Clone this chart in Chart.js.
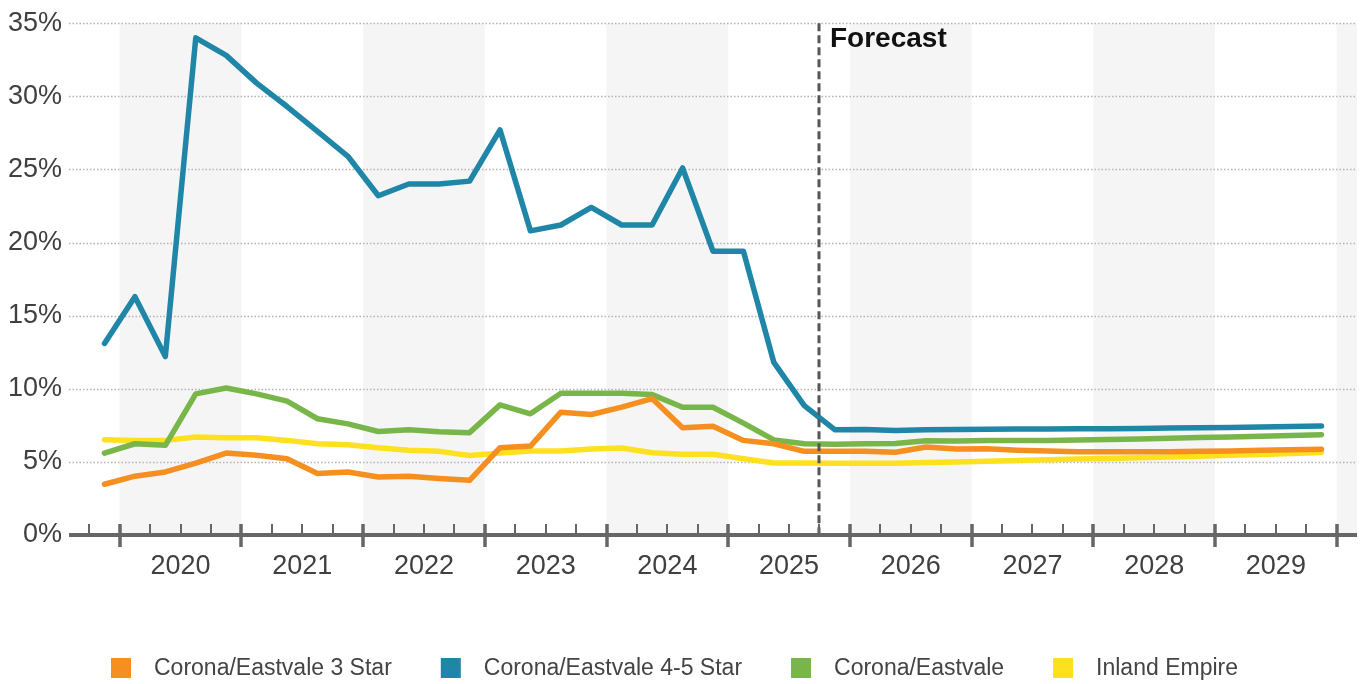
<!DOCTYPE html>
<html>
<head>
<meta charset="utf-8">
<script src="https://cdn.jsdelivr.net/npm/chart.js@4/dist/chart.umd.min.js"></script>
<style>
  html, body { margin: 0; padding: 0; background: #fff; }
  #wrap { width: 1364px; height: 684px; }
</style>
</head>
<body>
<div id="wrap"><canvas id="c" width="1364" height="684"></canvas></div>
<script>
// Quarterly vacancy rates (%), history through 2025 Q3, forecast afterwards
const quarters = [
  '2019 Q4',
  '2020 Q1','2020 Q2','2020 Q3','2020 Q4',
  '2021 Q1','2021 Q2','2021 Q3','2021 Q4',
  '2022 Q1','2022 Q2','2022 Q3','2022 Q4',
  '2023 Q1','2023 Q2','2023 Q3','2023 Q4',
  '2024 Q1','2024 Q2','2024 Q3','2024 Q4',
  '2025 Q1','2025 Q2','2025 Q3','2025 Q4',
  '2026 Q1','2026 Q2','2026 Q3','2026 Q4',
  '2027 Q1','2027 Q2','2027 Q3','2027 Q4',
  '2028 Q1','2028 Q2','2028 Q3','2028 Q4',
  '2029 Q1','2029 Q2','2029 Q3','2029 Q4'
];

const corona3Star = [
  3.47, 4.02, 4.31, 4.92, 5.6, 5.45, 5.22, 4.2, 4.31, 3.97, 4.02, 3.86, 3.74,
  5.97, 6.08, 8.4, 8.24, 8.74, 9.33, 7.33, 7.44, 6.47, 6.24, 5.72, 5.72,
  5.72, 5.66, 6.02, 5.88, 5.9, 5.8, 5.74, 5.7, 5.69, 5.69, 5.7, 5.72,
  5.75, 5.79, 5.83, 5.87
];
const corona45Star = [
  13.1, 16.3, 12.2, 34.0, 32.8, 30.9, 29.3, 27.6, 25.9, 23.2, 24.0, 24.0, 24.2,
  27.7, 20.8, 21.2, 22.4, 21.2, 21.2, 25.1, 19.4, 19.4, 11.8, 8.85, 7.2,
  7.22, 7.15, 7.2, 7.22, 7.24, 7.25, 7.25, 7.26, 7.27, 7.29, 7.31, 7.34,
  7.36, 7.39, 7.42, 7.45
];
const coronaEastvale = [
  5.6, 6.24, 6.13, 9.65, 10.05, 9.65, 9.15, 7.95, 7.6, 7.08, 7.2, 7.06, 7.0,
  8.9, 8.29, 9.69, 9.7, 9.7, 9.6, 8.74, 8.74, 7.65, 6.5, 6.24, 6.2,
  6.24, 6.25, 6.45, 6.42, 6.46, 6.47, 6.47, 6.5, 6.53, 6.57, 6.61, 6.66,
  6.71, 6.76, 6.81, 6.86
];
const inlandEmpire = [
  6.52, 6.47, 6.47, 6.7, 6.65, 6.65, 6.47, 6.24, 6.17, 5.97, 5.79, 5.72, 5.43,
  5.6, 5.74, 5.74, 5.88, 5.95, 5.63, 5.52, 5.52, 5.22, 4.92, 4.92, 4.9,
  4.9, 4.9, 4.95, 5.0, 5.04, 5.1, 5.15, 5.2, 5.24, 5.28, 5.33, 5.39,
  5.45, 5.51, 5.58, 5.65
];

const seriesNames = ['Corona/Eastvale 3 Star', 'Corona/Eastvale 4-5 Star', 'Corona/Eastvale', 'Inland Empire'];
const seriesColors = ['#f58f1f', '#1f86a7', '#79b64a', '#fde11f'];
const yTicks = [0, 5, 10, 15, 20, 25, 30, 35];
const yearLabels = ['2020','2021','2022','2023','2024','2025','2026','2027','2028','2029'];
const forecastStart = '2025 Q4';

// quarter label -> decimal year at the middle / start of the quarter
function quarterMid(label) {
  const [y, q] = label.split(' Q');
  return Number(y) + (Number(q) - 0.5) / 4;
}
function quarterStart(label) {
  const [y, q] = label.split(' Q');
  return Number(y) + (Number(q) - 1) / 4;
}

const X_MIN = 2019 + 7 / 12;
const X_MAX = 2030 + 2 / 12;
const FONT = "'Liberation Sans', Arial, sans-serif";

const seriesValues = [corona3Star, corona45Star, coronaEastvale, inlandEmpire];
const datasets = seriesValues.map((vals, i) => ({
  label: seriesNames[i],
  data: vals.map((v, k) => ({ x: quarterMid(quarters[k]), y: v })),
  borderColor: seriesColors[i],
  backgroundColor: seriesColors[i],
  borderWidth: 5.5,
  pointRadius: 0,
  tension: 0,
  borderCapStyle: 'round',
  borderJoinStyle: 'round',
  fill: false
}));

const decor = {
  id: 'decor',
  beforeDatasetsDraw(chart) {
    const { ctx, chartArea: a, scales: { x, y } } = chart;
    ctx.save();
    // alternating year bands
    ctx.fillStyle = '#f5f5f5';
    for (let yr = 2020; yr <= 2030; yr += 2) {
      const x0 = x.getPixelForValue(yr);
      const x1 = x.getPixelForValue(Math.min(yr + 1, X_MAX));
      ctx.fillRect(x0, a.top, x1 - x0, a.bottom - a.top);
    }
    // dotted horizontal grid
    ctx.strokeStyle = '#b4b4b4';
    ctx.lineWidth = 1.3;
    ctx.setLineDash([1.5, 2]);
    yTicks.forEach(v => {
      if (v === 0) return;
      const py = Math.round(y.getPixelForValue(v)) + 0.5;
      ctx.beginPath();
      ctx.moveTo(a.left, py);
      ctx.lineTo(a.right, py);
      ctx.stroke();
    });
    ctx.restore();
  },
  afterDatasetsDraw(chart) {
    const { ctx, chartArea: a, scales: { x, y } } = chart;
    const y0 = y.getPixelForValue(0);
    ctx.save();

    // forecast divider
    const fx = Math.round(x.getPixelForValue(quarterStart(forecastStart)));
    ctx.strokeStyle = '#555';
    ctx.lineWidth = 3;
    ctx.setLineDash([8, 4]);
    ctx.beginPath();
    ctx.moveTo(fx, a.top);
    ctx.lineTo(fx, y0);
    ctx.stroke();
    ctx.setLineDash([]);

    ctx.fillStyle = '#111';
    ctx.font = 'bold 28px ' + FONT;
    ctx.textAlign = 'left';
    ctx.textBaseline = 'alphabetic';
    ctx.fillText('Forecast', fx + 11, 47);

    // x axis line
    ctx.strokeStyle = '#666';
    ctx.lineWidth = 4;
    ctx.beginPath();
    ctx.moveTo(a.left, y0);
    ctx.lineTo(a.right, y0);
    ctx.stroke();

    // quarter and year ticks
    for (let t = 2019.75; t <= 2030.001; t += 0.25) {
      const px = Math.round(x.getPixelForValue(t));
      const major = Math.abs(t - Math.round(t)) < 1e-6;
      ctx.lineWidth = major ? 3.5 : 2;
      ctx.beginPath();
      ctx.moveTo(px, y0 - 11);
      ctx.lineTo(px, major ? y0 + 12 : y0);
      ctx.stroke();
    }

    // year labels centred in each year
    ctx.fillStyle = '#404040';
    ctx.font = '27px ' + FONT;
    ctx.textAlign = 'center';
    yearLabels.forEach(lbl => {
      const px = x.getPixelForValue(Number(lbl) + 0.5);
      ctx.fillText(lbl, px, 574);
    });

    // legend
    ctx.font = '23px ' + FONT;
    ctx.textAlign = 'left';
    let lx = 111;
    seriesNames.forEach((name, i) => {
      ctx.fillStyle = seriesColors[i];
      ctx.fillRect(lx, 658, 20, 20);
      ctx.fillStyle = '#444';
      ctx.fillText(name, lx + 43, 675);
      lx += 43 + ctx.measureText(name).width + 49;
    });
    ctx.restore();
  }
};

new Chart(document.getElementById('c'), {
  type: 'line',
  data: { datasets },
  options: {
    responsive: false,
    devicePixelRatio: 1,
    animation: false,
    layout: { padding: { top: 21, right: 7, bottom: 149, left: 0 } },
    plugins: { legend: { display: false }, tooltip: { enabled: false } },
    scales: {
      x: { type: 'linear', min: X_MIN, max: X_MAX, display: false },
      y: {
        min: 0, max: 35,
        afterFit(scale) { scale.width = 69; },
        afterBuildTicks(scale) { scale.ticks = yTicks.map(v => ({ value: v })); },
        grid: { display: false, drawTicks: false },
        border: { display: false },
        ticks: {
          padding: 7,
          color: '#404040',
          font: { family: FONT, size: 27 },
          callback: v => v + '%'
        }
      }
    }
  },
  plugins: [decor]
});
</script>
</body>
</html>
